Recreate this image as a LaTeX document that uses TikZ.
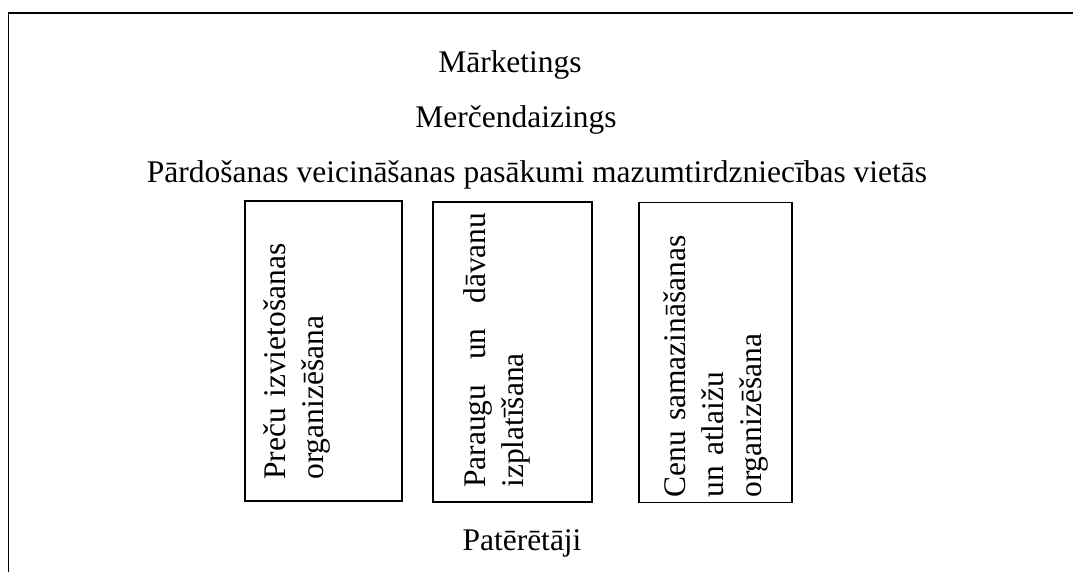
\documentclass[tikz,border=0pt]{standalone}
\usepackage{fontspec}
\setmainfont{Liberation Serif}
\usetikzlibrary{positioning}
\hyphenpenalty=10000
\tikzset{basic/.style={inner sep=0pt,font=\fontsize{22.4}{27}\selectfont}}
\tikzset{title/.style={basic,anchor=base}}
\tikzset{box/.style={draw,line width=1pt,minimum height=75mm}}
\tikzset{vtext/.style={basic,rotate=90,anchor=north west,text width=68.75mm}}

\begin{document}
\begin{tikzpicture}[x=0.25mm,y=-0.25mm]
\useasboundingbox (0,0) rectangle (1073,572);

% Define frame
\coordinate (f1) at (8.5,572);
\coordinate (f2) at (8.5,13);
\coordinate (f3) at (1073,13);
\draw[line width=1pt] (f1) -- (f2) -- (f3);

% Define titles
\node[title] at (510,72) (mark) {Mārketings};
\node[title] at (516,127) (merc) {Merčendaizings};
\node[title] at (537,182) (pard) {Pārdošanas veicināšanas pasākumi mazumtirdzniecības vietās};

% Define boxes
\node[box,minimum width=39.25mm] at (323.5,351) (b1) {};
\node[box,minimum width=39.75mm] at (512.5,352) (b2) {};
\node[box,minimum width=38.25mm] at (715.5,352.5) (b3) {};

% Define box texts
\node[vtext,align=left] at (263,480) (t1) {Preču izvietošanas\\organizēšana};
\node[vtext,align=justify] at (463,488) (t2) {Paraugu un dāvanu\linebreak izplatīšana};
\node[vtext,align=left] at (663,498) (t3) {Cenu samazināšanas\\un atlaižu\\organizēšana};

% Add some text
\node[title] at (522,550) (pat) {Patērētāji};
\end{tikzpicture}
\end{document}
